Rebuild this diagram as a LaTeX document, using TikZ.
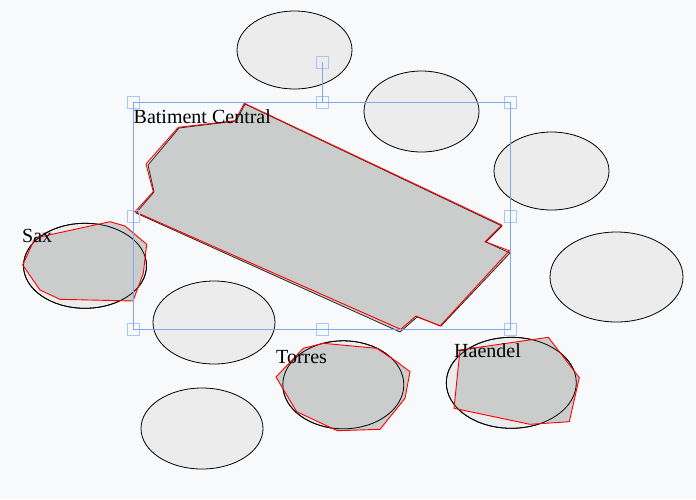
\documentclass[tikz,border=0pt]{standalone}
\usepackage{fontspec}
\setmainfont{Liberation Serif}
\usetikzlibrary{shapes.geometric}
\definecolor{bgc}{RGB}{248,249,251}
\definecolor{lightfill}{RGB}{236,236,236}
\definecolor{darkfill}{RGB}{203,204,204}
\definecolor{selblue}{RGB}{128,166,242}
\definecolor{handleblue}{RGB}{170,196,248}
\tikzset{
  bldg/.style={ellipse, draw=black, line width=0.8pt, fill=lightfill, inner sep=0pt, outer sep=0pt},
  bldgline/.style={ellipse, draw=black, line width=0.8pt, inner sep=0pt, outer sep=0pt},
  foot/.style={fill=darkfill},
  redline/.style={draw=red, line width=0.9pt, line join=miter},
  blackline/.style={draw=black!85, line width=0.8pt},
  label/.style={anchor=base west, inner sep=0pt, font=\fontsize{20}{23}\selectfont},
  handle/.style={rectangle, draw=handleblue, line width=0.9pt, minimum size=12pt, inner sep=0pt, outer sep=0pt},
  sel/.style={draw=selblue, line width=0.8pt}
}
\begin{document}
\begin{tikzpicture}[x=1pt,y=-1pt]
\useasboundingbox (0,0) rectangle (696,499);
\fill[bgc] (0,0) rectangle (696,499);

% plain buildings
\node[bldg, minimum width=115pt, minimum height=78pt] (e1) at (294.5,50) {};
\node[bldg, minimum width=115pt, minimum height=81pt] (e2) at (421.5,111.5) {};
\node[bldg, minimum width=115pt, minimum height=78pt] (e3) at (551.5,171) {};
\node[bldg, minimum width=133pt, minimum height=90pt] (e4) at (616.5,277) {};
\node[bldg, minimum width=122pt, minimum height=83pt] (e5) at (214,322.5) {};
\node[bldg, minimum width=122pt, minimum height=81pt] (e6) at (202,428.5) {};

% matched buildings: light ellipse fill
\node[bldg, minimum width=123pt, minimum height=85pt] (sax) at (85,265.8) {};
\node[bldg, minimum width=121pt, minimum height=88pt] (torres) at (343.3,384.8) {};
\node[bldg, minimum width=130pt, minimum height=91pt] (haendel) at (511.3,382.8) {};

% footprints fill
\fill[foot] (22.7,265) -- (35,238) -- (110,221.7) -- (125,226) -- (146.7,244.3) -- (143.3,273.3) -- (133,301) -- (60,299.3) -- (40,290) -- cycle;
\fill[foot] (276,377) -- (303.3,348.3) -- (323.3,343.3) -- (376.7,348.3) -- (396.7,361.7) -- (410,371.7) -- (405,398.3) -- (380,429.3) -- (337.3,430.7) -- (296.7,411.7) -- cycle;
\fill[foot] (460,350) -- (548.3,337.3) -- (579.3,377.7) -- (569.3,421.7) -- (530,424.3) -- (454,408.3) -- cycle;

% ellipse outlines over fill
\node[bldgline, minimum width=123pt, minimum height=85pt] at (sax.center) {};
\node[bldgline, minimum width=121pt, minimum height=88pt] at (torres.center) {};
\node[bldgline, minimum width=130pt, minimum height=91pt] at (haendel.center) {};

% footprint outlines
\draw[redline] (22.7,265) -- (35,238) -- (110,221.7) -- (125,226) -- (146.7,244.3) -- (143.3,273.3) -- (133,301) -- (60,299.3) -- (40,290) -- cycle;
\draw[redline] (276,377) -- (303.3,348.3) -- (323.3,343.3) -- (376.7,348.3) -- (396.7,361.7) -- (410,371.7) -- (405,398.3) -- (380,429.3) -- (337.3,430.7) -- (296.7,411.7) -- cycle;
\draw[redline] (460,350) -- (548.3,337.3) -- (579.3,377.7) -- (569.3,421.7) -- (530,424.3) -- (454,408.3) -- cycle;

% main building
\filldraw[fill=darkfill, blackline] (245,104) -- (502,226) -- (486,242) -- (510,253) -- (441,326) -- (417,317) -- (400,332) -- (136,213) -- (154,192) -- (148,165) -- (179,128) -- (236,121) -- cycle;
\draw[redline] (244.3,103.3) -- (501.7,225) -- (485,241.7) -- (509.3,250.7) -- (440,326) -- (416,316) -- (400.7,329.3) -- (135,211.7) -- (153.3,191.7) -- (146,164) -- (178.3,127.3) -- (235,120.7) -- cycle;

% selection box and handles
\node[handle] (hTL) at (133.3,102.7) {};
\node[handle] (hT)  at (322,102.7) {};
\node[handle] (hTR) at (510.5,102.7) {};
\node[handle] (hL)  at (133.3,216) {};
\node[handle] (hR)  at (510.5,216) {};
\node[handle] (hBL) at (133.3,329.3) {};
\node[handle] (hB)  at (322,329.3) {};
\node[handle] (hBR) at (510.5,329.3) {};
\node[handle] (hRot) at (322,62) {};
\draw[sel] (hTL.center) rectangle (hBR.center);
\draw[sel] (hRot.center) -- (hT.center);

% labels
\node[label] (tcentral) at (133.5,123) {Batiment Central};
\node[label] (tsax) at (22,242) {Sax};
\node[label] (ttorres) at (276,363) {Torres};
\node[label] (thaendel) at (454,357.5) {Haendel};
\end{tikzpicture}
\end{document}
